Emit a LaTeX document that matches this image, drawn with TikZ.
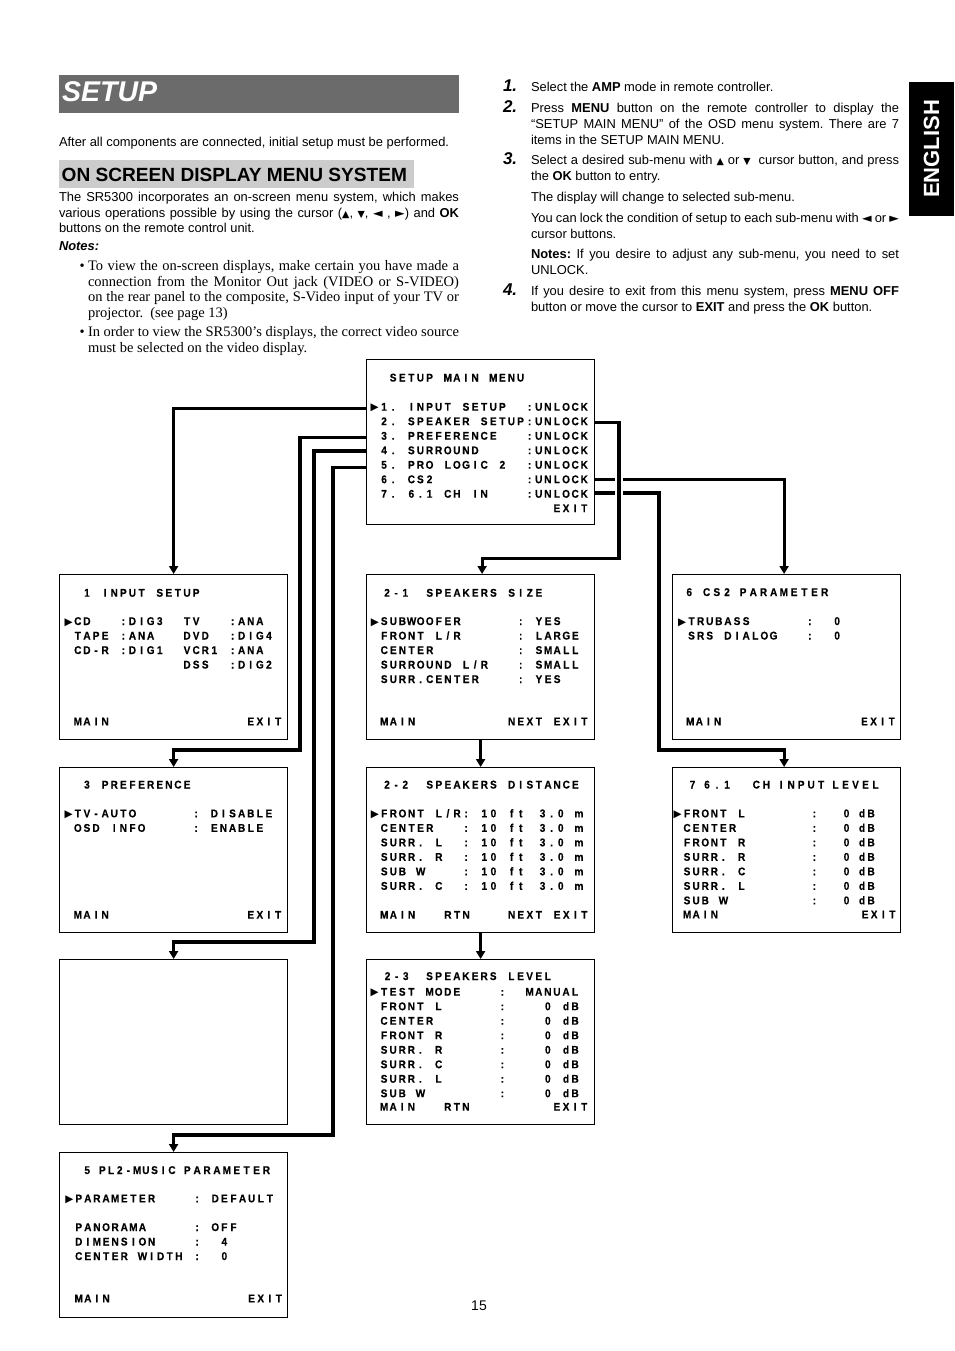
\documentclass[tikz,border=0pt]{standalone}
\usepackage{fontspec}
\setmainfont{Liberation Sans}
\newfontfamily\timesf{Liberation Serif}
\newfontfamily\osdfont[FakeStretch=0.9,BoldFeatures={FakeBold=0.3}]{Liberation Sans}
\newfontfamily\symf{DejaVu Sans}
\usetikzlibrary{arrows.meta}
\definecolor{bardark}{gray}{0.42}
\definecolor{barlight}{gray}{0.80}
\frenchspacing

\ExplSyntaxOn
\NewDocumentCommand \osd { O{9.1} m }
  { \str_map_inline:nn {#2} { \hbox_to_wd:nn {#1pt} { \hss ##1 \hss } } }
\ExplSyntaxOff

\newcommand\smsym[1]{{\symf\fontsize{9.5}{10}\selectfont #1}}
\newcommand\smsyh[1]{{\symf\fontsize{12.5}{10}\selectfont #1}}
\newcommand\osdC[3]{\node[osdn] at ({\gx+(#1)*9.1},#2) {\osd{#3}};}
\newcommand\osdA[3]{\node[osdn] at (#1,#2) {\osd{#3}};}
\newcommand\osdP[4]{\node[osdn] at (#2,#3) {\osd[#1]{#4}};}
\newcommand\osdM[1]{\node[markn] at ({\gx-9.1+0.3},#1) {▶};}

\tikzset{
  osdn/.style={anchor=base west, inner sep=0pt, outer sep=0pt, font=\osdfont\bfseries\fontsize{11.2}{13}\selectfont},
  markn/.style={anchor=base west, inner sep=0pt, outer sep=0pt, font=\symf\fontsize{10.5}{11}\selectfont},
  menubox/.style={draw=black, line width=1.2pt, minimum width=228pt, minimum height=165pt, anchor=north west, inner sep=0pt},
  conn/.style={draw=black, line width=3.2pt},
  tip/.style={-{Triangle[width=9pt,length=8pt]}},
  body/.style={anchor=base west, inner sep=0pt, outer sep=0pt, font=\fontsize{12.9}{15.5}\selectfont},
  serifb/.style={anchor=base west, inner sep=0pt, outer sep=0pt, font=\timesf\fontsize{14.5}{15.5}\selectfont},
  stepnum/.style={anchor=base west, inner sep=0pt, outer sep=0pt, font=\bfseries\itshape\fontsize{17}{20}\selectfont},
}

\begin{document}
\begin{tikzpicture}[x=1pt,y=-1pt]
\useasboundingbox (0,0) rectangle (954,1351);
\fill[white] (0,0) rectangle (954,1351);

% ---------- header, left column ----------
\fill[bardark] (59,75) rectangle (459,113);
\node[anchor=base west,inner sep=0pt,text=white,font=\bfseries\itshape\fontsize{28.5}{30}\selectfont] (ttl) at (62,101.5) {SETUP};
\node[body] (intro) at (59,147) {After all components are connected, initial setup must be performed.};
\fill[barlight] (59,160) rectangle (414,188);
\node[anchor=base west,inner sep=0pt,font=\bfseries\fontsize{19.1}{21}\selectfont] (osdh) at (61.5,181.5) {ON SCREEN DISPLAY MENU SYSTEM};
\node[body] (p1) at (59,201.5) {\makebox[400pt][s]{The SR5300 incorporates an on-screen menu system, which makes}};
\node[body] (p2) at (59,217) {\makebox[400pt][s]{various operations possible by using the cursor (\smsym{▲}, \smsym{▼}, \smsyh{◄} , \smsyh{►}) and \textbf{OK}}};
\node[body] (p3) at (59,232.5) {buttons on the remote control unit.};
\node[body,font=\bfseries\itshape\fontsize{12.9}{15}\selectfont] (notes) at (59,250.5) {Notes:};
\node[serifb] (bu1) at (79.5,270.5) {•};
\node[serifb] (n11) at (88,270.5) {\makebox[371pt][s]{To view the on-screen displays, make certain you have made a}};
\node[serifb] (n12) at (88,286) {\makebox[371pt][s]{connection from the Monitor Out jack (VIDEO or S-VIDEO)}};
\node[serifb] (n13) at (88,301.5) {\makebox[371pt][s]{on the rear panel to the composite, S-Video input of your TV or}};
\node[serifb] (n14) at (88,317) {projector.\ \ (see page 13)};
\node[serifb] (bu2) at (79.5,336.5) {•};
\node[serifb] (n21) at (88,336.5) {\makebox[371pt][s]{In order to view the SR5300’s displays, the correct video source}};
\node[serifb] (n22) at (88,352) {must be selected on the video display.};

% ---------- right column ----------
\node[stepnum] (s1) at (503,92) {1.};
\node[body] (t11) at (531,91.6) {Select the \textbf{AMP} mode in remote controller.};
\node[stepnum] (s2) at (503,113) {2.};
\node[body] (t21) at (531,112.6) {\makebox[368pt][s]{Press \textbf{MENU} button on the remote controller to display the}};
\node[body] (t22) at (531,128.6) {\makebox[368pt][s]{“SETUP MAIN MENU” of the OSD menu system. There are 7}};
\node[body] (t23) at (531,144.6) {items in the SETUP MAIN MENU.};
\node[stepnum] (s3) at (503,164.5) {3.};
\node[body] (t31) at (531,164.6) {\makebox[368pt][s]{Select a desired sub-menu with \smsym{▲} or \smsym{▼}\ \ cursor button, and press}};
\node[body] (t32) at (531,180.6) {the \textbf{OK} button to entry.};
\node[body] (t33) at (531,201.6) {The display will change to selected sub-menu.};
\node[body] (t34) at (531,222.6) {\makebox[368pt][s]{You can lock the condition of setup to each sub-menu with \smsyh{◄} or \smsyh{►}}};
\node[body] (t35) at (531,238.6) {cursor buttons.};
\node[body] (t36) at (531,258.6) {\makebox[368pt][s]{\textbf{Notes:} If you desire to adjust any sub-menu, you need to set}};
\node[body] (t37) at (531,274.6) {UNLOCK.};
\node[stepnum] (s4) at (503,295.5) {4.};
\node[body] (t41) at (531,295.6) {\makebox[368pt][s]{If you desire to exit from this menu system, press \textbf{MENU OFF}}};
\node[body] (t42) at (531,311.6) {button or move the cursor to \textbf{EXIT} and press the \textbf{OK} button.};

\fill[black] (909,82) rectangle (954,216);
\node[rotate=90,inner sep=0pt,text=white,font=\bfseries\fontsize{22}{24}\selectfont] (eng) at (931.5,149) {ENGLISH};

% ---------- boxes ----------
\node[menubox] (mm)  at (366,359) {};
\node[menubox] (b1)  at (59,574) {};
\node[menubox] (b21) at (366,574) {};
\node[menubox] (b6)  at (672,574) {};
\node[menubox] (b3)  at (59,767) {};
\node[menubox] (b22) at (366,767) {};
\node[menubox] (b7)  at (672,767) {};
\node[menubox] (b4)  at (59,959) {};
\node[menubox] (b23) at (366,959) {};
\node[menubox] (b5)  at (59,1152) {};

% main menu
\begin{scope}[shift={(366,359)}]
\def\gx{13.5}
\osdC{1}{22.5}{SETUP MAIN MENU}
\osdM{51.7}
\osdC{0}{51.7}{1.}\osdC{3}{51.7}{INPUT SETUP}\osdC{16}{51.7}{:UNLOCK}
\osdC{0}{66.2}{2.}\osdC{3}{66.2}{SPEAKER SETUP}\osdC{16}{66.2}{:UNLOCK}
\osdC{0}{80.7}{3.}\osdC{3}{80.7}{PREFERENCE}\osdC{16}{80.7}{:UNLOCK}
\osdC{0}{95.2}{4.}\osdC{3}{95.2}{SURROUND}\osdC{16}{95.2}{:UNLOCK}
\osdC{0}{109.7}{5.}\osdC{3}{109.7}{PRO LOGIC 2}\osdC{16}{109.7}{:UNLOCK}
\osdC{0}{124.2}{6.}\osdC{3}{124.2}{CS2}\osdC{16}{124.2}{:UNLOCK}
\osdC{0}{138.7}{7.}\osdC{3}{138.7}{6.1 CH IN}\osdC{16}{138.7}{:UNLOCK}
\osdC{19}{153.2}{EXIT}
\end{scope}

% 1 input setup
\begin{scope}[shift={(59,574)}]
\def\gx{14.3}
\osdC{1}{22.7}{1 INPUT SETUP}
\osdM{51}
\osdC{0}{51}{CD}\osdC{5}{51}{:DIG3}\osdC{12}{51}{TV}\osdC{17}{51}{:ANA}
\osdC{0}{65.5}{TAPE}\osdC{5}{65.5}{:ANA}\osdC{12}{65.5}{DVD}\osdC{17}{65.5}{:DIG4}
\osdC{0}{80}{CD-R}\osdC{5}{80}{:DIG1}\osdC{12}{80}{VCR1}\osdC{17}{80}{:ANA}
\osdC{12}{94.5}{DSS}\osdC{17}{94.5}{:DIG2}
\osdC{0}{151.3}{MAIN}\osdC{19}{151.3}{EXIT}
\end{scope}

% 2-1 speakers size
\begin{scope}[shift={(366,574)}]
\def\gx{13.7}
\osdA{16.5}{22.7}{2-1}\osdC{5}{22.7}{SPEAKERS SIZE}
\osdM{51}
\osdC{0}{51}{SUBWOOFER}\osdC{15}{51}{:}\osdC{17}{51}{YES}
\osdC{0}{65.5}{FRONT L/R}\osdC{15}{65.5}{:}\osdC{17}{65.5}{LARGE}
\osdC{0}{80}{CENTER}\osdC{15}{80}{:}\osdC{17}{80}{SMALL}
\osdC{0}{94.5}{SURROUND L/R}\osdC{15}{94.5}{:}\osdC{17}{94.5}{SMALL}
\osdC{0}{109}{SURR.CENTER}\osdC{15}{109}{:}\osdC{17}{109}{YES}
\osdC{0}{151.3}{MAIN}\osdC{14}{151.3}{NEXT}\osdC{19}{151.3}{EXIT}
\end{scope}

% 6 cs2 parameter
\begin{scope}[shift={(672,574)}]
\def\gx{15}
\osdA{12.7}{22}{6}\osdP{10.2}{29.5}{22}{CS2}\osdP{10.2}{66}{22}{PARAMETER}
\osdM{51}
\osdC{0}{51}{TRUBASS}\osdC{13}{51}{:}\osdC{16}{51}{0}
\osdC{0}{65.5}{SRS DIALOG}\osdC{13}{65.5}{:}\osdC{16}{65.5}{0}
\osdA{13.7}{151.3}{MAIN}\osdC{19}{151.3}{EXIT}
\end{scope}

% 3 preference
\begin{scope}[shift={(59,767)}]
\def\gx{14.3}
\osdC{1}{21.5}{3 PREFERENCE}
\osdM{50.3}
\osdC{0}{50.3}{TV-AUTO}\osdC{13}{50.3}{:}\osdC{15}{50.3}{DISABLE}
\osdC{0}{64.8}{OSD INFO}\osdC{13}{64.8}{:}\osdC{15}{64.8}{ENABLE}
\osdC{0}{151.7}{MAIN}\osdC{19}{151.7}{EXIT}
\end{scope}

% 2-2 speakers distance
\begin{scope}[shift={(366,767)}]
\def\gx{13.7}
\osdA{16.5}{21.5}{2-2}\osdC{5}{21.5}{SPEAKERS DISTANCE}
\osdM{50.3}
\osdC{0}{50.3}{FRONT L/R}\osdC{9}{50.3}{:}\osdC{11}{50.3}{10 ft}\osdA{172}{50.3}{3.0 m}
\osdC{0}{64.8}{CENTER}\osdC{9}{64.8}{:}\osdC{11}{64.8}{10 ft}\osdA{172}{64.8}{3.0 m}
\osdC{0}{79.3}{SURR. L}\osdC{9}{79.3}{:}\osdC{11}{79.3}{10 ft}\osdA{172}{79.3}{3.0 m}
\osdC{0}{93.8}{SURR. R}\osdC{9}{93.8}{:}\osdC{11}{93.8}{10 ft}\osdA{172}{93.8}{3.0 m}
\osdC{0}{108.3}{SUB W}\osdC{9}{108.3}{:}\osdC{11}{108.3}{10 ft}\osdA{172}{108.3}{3.0 m}
\osdC{0}{122.8}{SURR. C}\osdC{9}{122.8}{:}\osdC{11}{122.8}{10 ft}\osdA{172}{122.8}{3.0 m}
\osdC{0}{151.7}{MAIN}\osdC{7}{151.7}{RTN}\osdC{14}{151.7}{NEXT}\osdC{19}{151.7}{EXIT}
\end{scope}

% 7 6.1 ch input level
\begin{scope}[shift={(672,767)}]
\def\gx{10.5}
\osdP{10}{15.5}{21.5}{7}\osdP{10}{30}{21.5}{6.1}\osdP{10}{79.3}{21.5}{CH}\osdP{10}{104.2}{21.5}{INPUT}\osdP{10}{158.5}{21.5}{LEVEL}
\osdM{50.3}
\osdC{0}{50.3}{FRONT L}\osdC{14}{50.3}{:}\osdA{170}{50.3}{0}\osdA{185.5}{50.3}{dB}
\osdC{0}{64.8}{CENTER}\osdC{14}{64.8}{:}\osdA{170}{64.8}{0}\osdA{185.5}{64.8}{dB}
\osdC{0}{79.3}{FRONT R}\osdC{14}{79.3}{:}\osdA{170}{79.3}{0}\osdA{185.5}{79.3}{dB}
\osdC{0}{93.8}{SURR. R}\osdC{14}{93.8}{:}\osdA{170}{93.8}{0}\osdA{185.5}{93.8}{dB}
\osdC{0}{108.3}{SURR. C}\osdC{14}{108.3}{:}\osdA{170}{108.3}{0}\osdA{185.5}{108.3}{dB}
\osdC{0}{122.8}{SURR. L}\osdC{14}{122.8}{:}\osdA{170}{122.8}{0}\osdA{185.5}{122.8}{dB}
\osdC{0}{137.3}{SUB W}\osdC{14}{137.3}{:}\osdA{170}{137.3}{0}\osdA{185.5}{137.3}{dB}
\osdC{0}{151.3}{MAIN}\osdA{188.5}{151.3}{EXIT}
\end{scope}

% 2-3 speakers level
\begin{scope}[shift={(366,959)}]
\def\gx{13.5}
\osdA{17}{21}{2-3}\osdC{5}{21}{SPEAKERS LEVEL}
\osdM{36.7}
\osdC{0}{36.7}{TEST MODE}\osdC{13}{36.7}{:}\osdC{16}{36.7}{MANUAL}
\osdC{0}{51.2}{FRONT L}\osdC{13}{51.2}{:}\osdC{18}{51.2}{0 dB}
\osdC{0}{65.7}{CENTER}\osdC{13}{65.7}{:}\osdC{18}{65.7}{0 dB}
\osdC{0}{80.2}{FRONT R}\osdC{13}{80.2}{:}\osdC{18}{80.2}{0 dB}
\osdC{0}{94.7}{SURR. R}\osdC{13}{94.7}{:}\osdC{18}{94.7}{0 dB}
\osdC{0}{109.2}{SURR. C}\osdC{13}{109.2}{:}\osdC{18}{109.2}{0 dB}
\osdC{0}{123.7}{SURR. L}\osdC{13}{123.7}{:}\osdC{18}{123.7}{0 dB}
\osdC{0}{138.2}{SUB W}\osdC{13}{138.2}{:}\osdC{18}{138.2}{0 dB}
\osdC{0}{151.7}{MAIN}\osdC{7}{151.7}{RTN}\osdC{19}{151.7}{EXIT}
\end{scope}

% 5 pl2-music parameter
\begin{scope}[shift={(59,1152)}]
\def\gx{15.2}
\osdA{23.7}{22}{5}\osdP{8.7}{39}{22}{PL2-MUSIC}\osdP{9.9}{123.3}{22}{PARAMETER}
\osdM{50.3}
\osdC{0}{50.3}{PARAMETER}\osdC{13}{50.3}{:}\osdC{15}{50.3}{DEFAULT}
\osdC{0}{79}{PANORAMA}\osdC{13}{79}{:}\osdC{15}{79}{OFF}
\osdC{0}{93.5}{DIMENSION}\osdC{13}{93.5}{:}\osdC{16}{93.5}{4}
\osdC{0}{108}{CENTER WIDTH}\osdC{13}{108}{:}\osdC{16}{108}{0}
\osdC{0}{150.3}{MAIN}\osdC{19}{150.3}{EXIT}
\end{scope}

% ---------- connectors ----------
\coordinate (m1) at (366,408.3);
\coordinate (m2) at (594,422.7);
\coordinate (m3) at (366,437.7);
\coordinate (m4) at (366,451);
\coordinate (m5) at (366,467.3);
\coordinate (m6) at (594,479.3);
\coordinate (m7) at (594,493);

\draw[conn,tip] (m1) -| (b1.north);
\draw[conn,tip] (m3) -| (300,750) -| (b3.north);
\draw[conn,tip] (m4) -| (314,942) -| (b4.north);
\draw[conn,tip] (m5) -| (333,1135) -| (b5.north);
\draw[conn,tip] (m6) -| ([xshift=-2.5pt]b6.north);
\draw[conn,tip] (m7) -| (659,750) -| ([xshift=-2.5pt]b7.north);
\draw[white,line width=8.5pt] (619,472) -- (619,500);
\draw[conn,tip] (m2) -| (619,558.3) -| ([xshift=1.5pt]b21.north);
\draw[conn,tip] (b21.south) -- (b22.north);
\draw[conn,tip] (b22.south) -- (b23.north);

\node[anchor=base,inner sep=0pt,font=\fontsize{14}{16}\selectfont] (pg) at (479,1310) {15};
\end{tikzpicture}
\end{document}
